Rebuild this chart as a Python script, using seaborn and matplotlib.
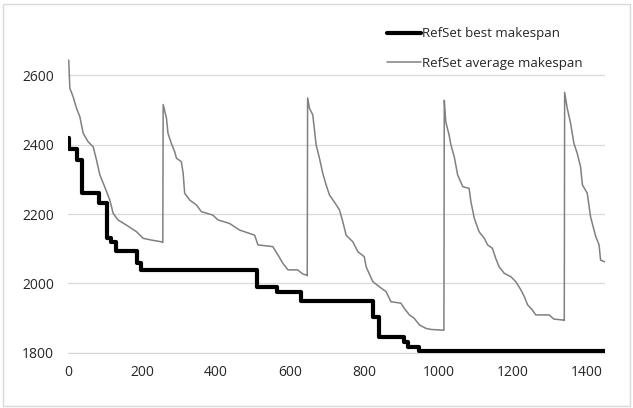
import matplotlib

matplotlib.use('agg')
import matplotlib.pyplot as plt
import pandas as pd
import seaborn as sns
from matplotlib.patches import Rectangle

# RefSet best makespan (step line)
best_x = [0, 2, 25, 37, 83, 104, 117, 129, 185, 198, 510, 565, 630, 823, 841, 908, 917, 947, 1450]
best_y = [2420, 2387, 2356, 2261, 2233, 2130, 2120, 2093, 2058, 2039, 1989, 1974, 1950, 1902, 1844, 1832, 1817, 1805, 1805]

# RefSet average makespan
avg_x = [2, 5, 14, 23, 32, 41, 54, 68, 77, 86, 99, 113, 122, 135, 158, 185, 203, 225, 252, 256,
         257, 266, 270, 279, 288, 293, 306, 311, 315, 329, 347, 360, 391, 405, 436, 463, 504, 513,
         553, 567, 580, 594, 620, 634, 645, 646,
         647, 652, 661, 670, 679, 688, 697, 706, 719, 733, 742, 751, 769, 783, 800, 805, 823, 841,
         859, 872, 899, 908, 922, 935, 949, 967, 981, 1013, 1015,
         1016, 1020, 1029, 1034, 1043, 1052, 1066, 1083, 1088, 1097, 1110, 1124, 1133, 1146, 1155,
         1164, 1178, 1196, 1209, 1223, 1232, 1241, 1254, 1263, 1299, 1312, 1339, 1340,
         1341, 1348, 1357, 1366, 1375, 1384, 1389, 1402, 1411, 1425, 1434, 1438, 1450]
avg_y = [2644, 2563, 2538, 2505, 2481, 2433, 2409, 2394, 2356, 2313, 2279, 2240, 2202, 2183, 2168, 2149, 2130, 2125, 2120, 2118,
         2516, 2476, 2433, 2404, 2380, 2361, 2351, 2317, 2260, 2240, 2226, 2207, 2197, 2183, 2173, 2154, 2139, 2111,
         2106, 2082, 2058, 2039, 2039, 2027, 2024, 2022,
         2535, 2505, 2486, 2399, 2361, 2317, 2284, 2255, 2235, 2212, 2178, 2139, 2120, 2091, 2077, 2048, 2005, 1990,
         1976, 1947, 1943, 1928, 1909, 1899, 1880, 1870, 1867, 1865, 1865,
         2528, 2466, 2428, 2399, 2365, 2313, 2279, 2274, 2235, 2188, 2149, 2130, 2111, 2101, 2072,
         2048, 2029, 2019, 2005, 1981, 1962, 1938, 1923, 1909, 1909, 1897, 1894, 1893,
         2551, 2505, 2462, 2404, 2375, 2336, 2284, 2260, 2192, 2135, 2111, 2067, 2062]

x_ticks = [0, 200, 400, 600, 800, 1000, 1200, 1400]
y_ticks = [1800, 2000, 2200, 2400, 2600]

sns.set_style('white')
plt.rcParams['font.family'] = ['Open Sans', 'DejaVu Sans']

fig = plt.figure(figsize=(6.33, 4.08), dpi=100)
ax = fig.add_axes([0.1074, 0.1355, 0.8484, 0.7647])

best_df = pd.DataFrame({'x': best_x, 'y': best_y})
avg_df = pd.DataFrame({'x': avg_x, 'y': avg_y})

sns.lineplot(data=best_df, x='x', y='y', ax=ax, color='black', linewidth=3.0,
             drawstyle='steps-post', estimator=None, sort=False, label='RefSet best makespan', zorder=3)
sns.lineplot(data=avg_df, x='x', y='y', ax=ax, color='#808080', linewidth=1.1,
             estimator=None, sort=False, label='RefSet average makespan', zorder=2)

ax.set_xlim(0, 1450)
ax.set_ylim(1800, 2700)
ax.set_xticks(x_ticks)
ax.set_yticks(y_ticks)
ax.set_xlabel('')
ax.set_ylabel('')
ax.grid(axis='y', color='#d9d9d9', linewidth=0.9)
ax.grid(axis='x', visible=False)
for side in ['top', 'right', 'left']:
    ax.spines[side].set_visible(False)
ax.spines['bottom'].set_color('#d9d9d9')
ax.spines['bottom'].set_linewidth(0.9)
ax.tick_params(axis='x', direction='inout', length=6, width=0.9, color='#d9d9d9',
               labelsize=10, labelcolor='#262626', pad=6)
ax.tick_params(axis='y', length=0, labelsize=10, labelcolor='#262626', pad=10)

ax.get_legend().remove()
handles, labels = ax.get_legend_handles_labels()
fig.legend(handles, labels, loc='upper left', bbox_to_anchor=(0.611, 0.933),
           frameon=False, fontsize=9.5, handlelength=2.6, handletextpad=0.1,
           labelspacing=1.25, borderpad=0, borderaxespad=0)

# light chart border
fig.patches.append(Rectangle((0.005, 0.004), 0.99, 0.985, transform=fig.transFigure,
                             fill=False, edgecolor='#d9d9d9', linewidth=1.0))

fig.savefig('out.png', dpi=100)
plt.close()
